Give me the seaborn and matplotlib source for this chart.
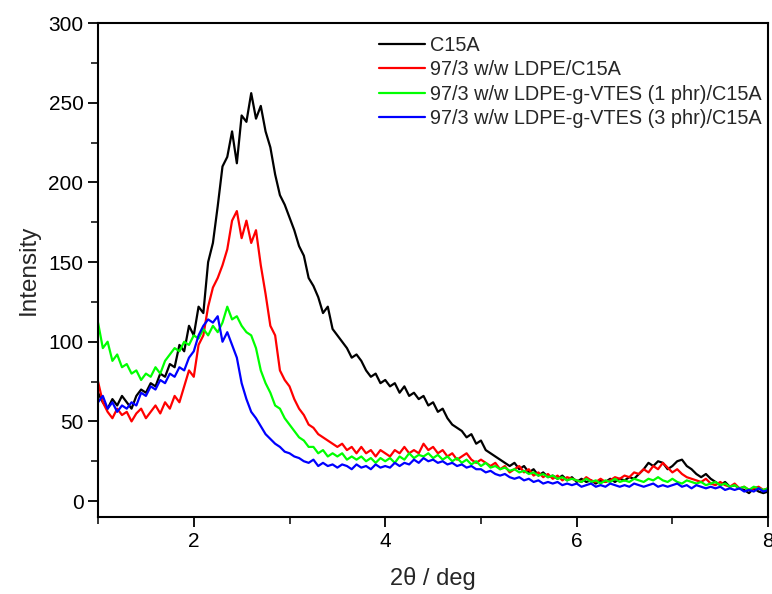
import numpy as np
import pandas as pd
import matplotlib
matplotlib.use('Agg')
import matplotlib.pyplot as plt
import seaborn as sns

# 2theta scan grid (deg), 0.05 deg step
two_theta = np.round(np.arange(1.0, 8.0001, 0.05), 2)

# intensities, one row per 0.5 deg
c15a = [
    68, 62, 58, 64, 60, 66, 62, 58, 66, 70,
    68, 74, 72, 80, 78, 86, 84, 98, 94, 110,
    104, 122, 118, 150, 162, 185, 210, 216, 232, 212,
    242, 238, 256, 240, 248, 232, 222, 205, 192, 186,
    178, 170, 160, 154, 140, 135, 128, 118, 122, 108,
    104, 100, 96, 90, 92, 88, 82, 78, 80, 74,
    76, 72, 74, 68, 72, 66, 68, 64, 66, 60,
    62, 56, 58, 52, 48, 46, 44, 40, 42, 36,
    38, 32, 30, 28, 26, 24, 22, 24, 20, 22,
    18, 20, 16, 18, 15, 16, 14, 16, 13, 15,
    12, 14, 12, 13, 11, 13, 12, 14, 12, 14,
    13, 15, 14, 17, 20, 24, 22, 25, 24, 20,
    22, 25, 26, 22, 20, 17, 15, 17, 14, 12,
    10, 12, 9, 10, 8, 7, 5, 8, 6, 5,
    6,
]
ldpe = [
    75, 62, 56, 52, 58, 54, 56, 50, 55, 58,
    52, 56, 60, 55, 62, 58, 66, 62, 72, 82,
    78, 98, 104, 122, 134, 140, 148, 158, 176, 182,
    165, 176, 162, 170, 148, 130, 110, 104, 82, 76,
    72, 64, 58, 54, 48, 46, 42, 40, 38, 36,
    34, 36, 32, 34, 30, 34, 30, 32, 28, 32,
    30, 28, 32, 30, 34, 30, 32, 30, 36, 32,
    34, 30, 32, 28, 30, 26, 28, 30, 26, 24,
    26, 24, 22, 24, 20, 22, 18, 20, 22, 18,
    20, 16, 18, 15, 17, 14, 16, 13, 15, 14,
    13, 12, 15, 13, 12, 14, 12, 13, 15, 14,
    16, 15, 18, 17, 20, 18, 22, 20, 24, 21,
    18, 20, 17, 15, 14, 13, 12, 14, 11, 10,
    12, 10, 9, 11, 8, 9, 7, 8, 9, 7,
    8,
]
vtes_1 = [
    112, 96, 100, 88, 92, 84, 86, 80, 82, 76,
    80, 78, 84, 80, 88, 92, 96, 94, 100, 98,
    104, 102, 108, 104, 110, 106, 112, 122, 114, 116,
    110, 106, 104, 96, 82, 74, 68, 60, 58, 52,
    48, 44, 40, 38, 34, 34, 30, 32, 28, 30,
    28, 30, 26, 28, 26, 28, 25, 27, 24, 27,
    25, 27, 24, 28, 26, 30, 27, 29, 28, 30,
    27, 29, 26, 28, 25, 27, 24, 26, 23, 25,
    22, 24, 21, 22, 20, 21, 19, 20, 18, 19,
    17, 18, 16, 17, 15, 16, 14, 15, 13, 14,
    13, 12, 14, 12, 13, 11, 13, 12, 14, 12,
    13, 12, 14, 13, 12, 14, 13, 15, 13, 12,
    14, 12, 11, 13, 12, 11, 12, 10, 11, 12,
    10, 11, 9, 10, 8, 9, 7, 9, 8, 7,
    8,
]
vtes_3 = [
    62, 66, 58, 62, 56, 60, 58, 62, 60, 68,
    66, 72, 70, 76, 74, 80, 78, 84, 82, 90,
    94, 104, 110, 114, 112, 116, 100, 106, 98, 90,
    74, 64, 56, 52, 47, 42, 39, 36, 34, 31,
    30, 28, 27, 25, 24, 26, 22, 24, 22, 23,
    21, 23, 22, 20, 23, 21, 22, 20, 23, 21,
    22, 21, 24, 22, 24, 23, 26, 24, 27, 25,
    26, 24, 25, 23, 24, 22, 23, 21, 22, 20,
    20, 18, 19, 17, 16, 17, 15, 14, 15, 13,
    14, 12, 13, 11, 12, 11, 12, 10, 11, 10,
    11, 9, 10, 11, 9, 10, 9, 11, 10, 9,
    10, 9, 11, 10, 9, 10, 11, 9, 10, 9,
    10, 11, 9, 10, 8, 10, 9, 8, 9, 8,
    9, 7, 8, 7, 8, 6, 7, 6, 8, 6,
    7,
]

labels = ['C15A',
          '97/3 w/w LDPE/C15A',
          '97/3 w/w LDPE-g-VTES (1 phr)/C15A',
          '97/3 w/w LDPE-g-VTES (3 phr)/C15A']
colors = ['#000000', '#ff0000', '#00ff00', '#0000ff']

frames = []
for lab, vals in zip(labels, [c15a, ldpe, vtes_1, vtes_3]):
    frames.append(pd.DataFrame({'two_theta': two_theta, 'intensity': vals, 'sample': lab}))
df = pd.concat(frames, ignore_index=True)

sns.set_style('ticks')
plt.rcParams['font.family'] = ['Liberation Sans', 'DejaVu Sans']

fig = plt.figure(figsize=(7.72, 5.94), dpi=100)
ax = fig.add_axes([0.127, 0.1296, 0.868, 0.8316])

sns.lineplot(data=df, x='two_theta', y='intensity', hue='sample', hue_order=labels,
             palette=dict(zip(labels, colors)), estimator=None, sort=False,
             linewidth=1.6, ax=ax)

ax.set_xlim(1, 8)
ax.set_ylim(-10, 300)
ax.set_xticks([2, 4, 6, 8])
ax.set_xticks([1, 3, 5, 7], minor=True)
ax.set_yticks(np.arange(0, 301, 50))
ax.set_yticks(np.arange(25, 300, 50), minor=True)
ax.tick_params(axis='both', which='major', direction='out', length=7, width=1.3,
               labelsize=15, colors='black')
ax.tick_params(axis='both', which='minor', direction='out', length=5, width=1.3)
for sp in ax.spines.values():
    sp.set_linewidth(1.5)
    sp.set_color('black')

ax.set_xlabel('2\u03b8 / deg', fontsize=17, labelpad=12)
ax.set_ylabel('Intensity', fontsize=17.5, labelpad=6)

ax.legend(loc='upper left', bbox_to_anchor=(0.40, 1.0), frameon=False, fontsize=14.3,
          handlelength=2.3, handletextpad=0.25, labelspacing=0.27, borderaxespad=0.25)

fig.savefig('out.png', dpi=100)
